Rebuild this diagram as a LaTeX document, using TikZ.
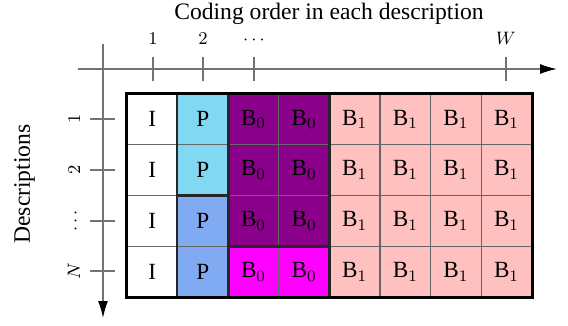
\documentclass[tikz,border=0pt]{standalone}
\usepackage{fontspec}
\setmainfont{Liberation Serif}
\usetikzlibrary{arrows.meta}
\definecolor{pcyan}{HTML}{80D8F2}
\definecolor{pblue}{HTML}{80AAF2}
\definecolor{bpurple}{HTML}{8B008B}
\definecolor{bmagenta}{HTML}{FF00FF}
\definecolor{bpink}{HTML}{FFC0C0}
\begin{document}
\begin{tikzpicture}[
        x=0.5pt, y=-0.5pt,
        axis/.style={draw=black!55, line width=0.7pt, -{Latex[length=8.5pt,width=5pt,black]}},
        tick/.style={draw=black!55, line width=0.7pt},
        ticklabel/.style={font=\fontsize{8.6}{10}\selectfont, inner sep=0pt, anchor=base},
        title/.style={font=\fontsize{11.8}{14}\selectfont, inner sep=0pt, anchor=base},
        cell/.style={draw=black!60, line width=0.6pt, minimum width=25.3pt, minimum height=25.375pt,
            inner sep=0pt, font=\fontsize{11.6}{14}\selectfont},
        group/.style={draw=black!85, line width=1pt},
        outer/.style={draw=black, line width=1.5pt},
    ]
    \useasboundingbox (0,0) rectangle (568,326);
    % cells
    \foreach \r in {1,...,4}{
        \node[cell, fill=white] (c-\r-1) at (127+50.6*0.5, 94+50.75*\r-50.75*0.5) {I};
        \foreach \c in {5,...,8}
            \node[cell, fill=bpink] (c-\r-\c) at (127+50.6*\c-50.6*0.5, 94+50.75*\r-50.75*0.5) {B$_1$};
    }
    \foreach \r/\col in {1/pcyan,2/pcyan,3/pblue,4/pblue}
        \node[cell, fill=\col] (c-\r-2) at (127+50.6*1.5, 94+50.75*\r-50.75*0.5) {P};
    \foreach \r/\col in {1/bpurple,2/bpurple,3/bpurple,4/bmagenta}
        \foreach \c in {3,4}
            \node[cell, fill=\col] (c-\r-\c) at (127+50.6*\c-50.6*0.5, 94+50.75*\r-50.75*0.5) {B$_0$};
    % groups
    \draw[group] (c-1-2.north west) rectangle (c-2-2.south east);
    \draw[group] (c-3-2.north west) rectangle (c-4-2.south east);
    \draw[group] (c-1-3.north west) rectangle (c-3-4.south east);
    \draw[group] (c-4-3.north west) rectangle (c-4-4.south east);
    \draw[group] (c-1-5.north west) rectangle (c-4-8.south east);
    \draw[outer] (c-1-1.north west) rectangle (c-4-8.south east);
    % axes
    \coordinate (xstart) at (78,69);
    \coordinate (xend) at (557,69);
    \coordinate (ystart) at (103,44);
    \coordinate (yend) at (103,318);
    \draw[axis] (xstart) -- (xend);
    \draw[axis] (ystart) -- (yend);
    \foreach \x/\t in {153/1,203/2,254/\cdots,506/W}{
        \draw[tick] (\x,57) -- (\x,81);
        \node[ticklabel] at (\x,45) {$\t$};
    }
    \foreach \y/\t in {119/1,170/2,221/\cdots,271/N}{
        \draw[tick] (90,\y) -- (115,\y);
        \node[ticklabel, rotate=90] at (80,\y) {$\t$};
    }
    \node[title] (xlabel) at (329,20) {Coding order in each description};
    \node[title, rotate=90] (ylabel) at (30,184) {Descriptions};
\end{tikzpicture}
\end{document}
